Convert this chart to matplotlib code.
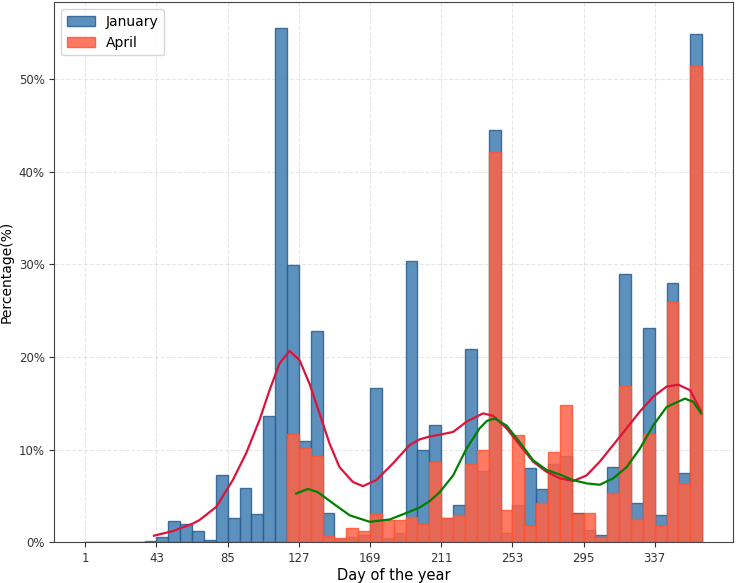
import numpy as np
import matplotlib
matplotlib.use("Agg")
import matplotlib.pyplot as plt
from matplotlib.ticker import PercentFormatter

# bins of 7 days, starting at day 1
bin_width = 7
bin_starts = np.arange(1, 365, bin_width)

# percentage per bin
january = [0, 0, 0, 0, 0, 0.15, 0.6, 2.25, 2.0, 1.25,
           0.25, 7.2, 2.6, 5.9, 3.05, 13.6, 55.5, 29.9, 10.9, 22.8,
           3.1, 0.3, 0.6, 0.8, 16.6, 0.5, 1.0, 30.3, 9.9, 12.7,
           2.65, 4.0, 20.8, 7.7, 44.5, 1.0, 4.0, 8.0, 5.7, 8.4,
           9.3, 3.2, 1.35, 0.8, 8.1, 29.0, 4.25, 23.1, 2.95, 28.0,
           7.5, 54.9]
april = [0, 0, 0, 0, 0, 0, 0, 0, 0, 0,
         0, 0, 0, 0, 0, 0, 0, 11.7, 10.15, 9.3,
         0.7, 0.5, 1.5, 1.2, 3.0, 2.4, 2.4, 2.7, 1.95, 8.7,
         2.6, 2.9, 8.4, 10.0, 42.15, 3.5, 11.6, 1.8, 4.2, 9.75,
         14.8, 3.0, 3.2, 0.6, 5.3, 16.85, 2.45, 11.7, 1.7, 25.95,
         6.3, 51.4]

# smoothed trend curves
jan_curve_day = [41.5, 52.6, 64.3, 68.3, 78.2, 88, 95.9, 103.8, 109.7, 115.6,
                 121.5, 127.4, 133.3, 139.2, 145.1, 151, 158.9, 164.8, 172.7, 182.5,
                 192.4, 198.3, 204, 210.1, 218, 225.9, 235.7, 241.6, 249.5, 257.3,
                 265.2, 273.1, 281, 288.8, 296.7, 304.6, 312.5, 320.4, 328.2, 336.1,
                 344, 350.9, 357.9, 364.4]
jan_curve_val = [0.7, 1.2, 2.0, 2.38, 3.8, 6.7, 9.6, 13.2, 16.4, 19.3,
                 20.65, 19.65, 17.1, 13.9, 10.65, 8.1, 6.5, 6.05, 6.7, 8.5,
                 10.5, 11.1, 11.4, 11.6, 11.9, 13.0, 13.9, 13.65, 12.3, 10.5,
                 8.7, 7.6, 6.9, 6.6, 7.2, 8.7, 10.5, 12.3, 14.1, 15.7,
                 16.8, 17.0, 16.4, 14.1]
apr_curve_day = [125.4, 132.3, 138.2, 147.1, 157, 168.8, 180.6, 192.4, 198.3, 204,
                 210.1, 218, 225.9, 233.7, 238, 242.6, 249.5, 257.3, 265.2, 273.1,
                 281, 288.8, 296.7, 304.6, 312.5, 320.4, 328.2, 336.1, 344, 354.8,
                 359.7, 364.4]
apr_curve_val = [5.25, 5.75, 5.4, 4.2, 2.9, 2.2, 2.45, 3.3, 3.75, 4.4,
                 5.4, 7.2, 10.1, 12.3, 13.1, 13.35, 12.6, 10.8, 8.85, 7.8,
                 7.3, 6.7, 6.35, 6.2, 6.9, 8.1, 10.1, 12.6, 14.6, 15.5,
                 15.15, 13.9]

xtick_days = [1, 43, 85, 127, 169, 211, 253, 295, 337]

fig, ax = plt.subplots(figsize=(7.36, 5.83), dpi=100)
fig.subplots_adjust(left=0.074, right=0.996, top=0.996, bottom=0.07)

ax.bar(bin_starts, january, width=bin_width, align="edge",
       color="#4682B4", alpha=0.88, edgecolor="#2b5f93", linewidth=1.0,
       label="January")
ax.bar(bin_starts, april, width=bin_width, align="edge",
       color="#FF6347", alpha=0.85, edgecolor="#FF5533", linewidth=1.0,
       label="April")

ax.plot(jan_curve_day, jan_curve_val, color="crimson", linewidth=1.6,
        solid_joinstyle="round")
ax.plot(apr_curve_day, apr_curve_val, color="green", linewidth=1.6,
        solid_joinstyle="round")

ax.set_xticks(xtick_days)
ax.yaxis.set_major_formatter(PercentFormatter(100, decimals=0))
ax.tick_params(labelsize=8.5, colors="#333333")
ax.set_xlabel("Day of the year", fontsize=10.5, labelpad=2)
ax.set_ylabel("Percentage(%)", fontsize=10)

ax.set_axisbelow(True)
ax.grid(True, linestyle="--", color="#dddddd", alpha=0.7, linewidth=0.8)
for s in ax.spines.values():
    s.set_color("#444444")

ax.legend(loc="upper left", fontsize=10)

fig.savefig("out.png", dpi=100)
